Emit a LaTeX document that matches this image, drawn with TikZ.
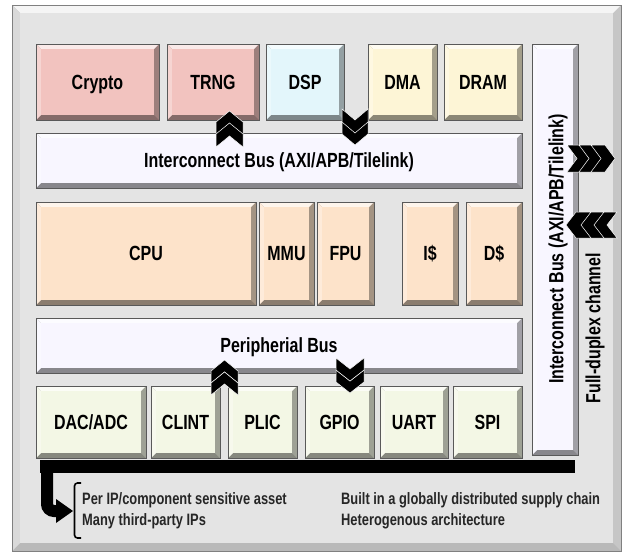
\documentclass[tikz,border=0pt]{standalone}
\usepackage{fontspec}
\setmainfont{Liberation Sans}[FakeStretch=0.78]
\definecolor{outerbg}{HTML}{E4E4E4}
\definecolor{cpink}{HTML}{F2C3BF}
\definecolor{ccyan}{HTML}{E3F6FB}
\definecolor{cyell}{HTML}{FDF5D6}
\definecolor{clav}{HTML}{F8F6FF}
\definecolor{cpeach}{HTML}{FDE3CA}
\definecolor{cgreen}{HTML}{F3F7E5}
\newcommand\bevbox[7]{%
  \fill[#6!55!black] (#2,#3) rectangle (#4,#5);
  \fill[#6!65!black] (#4,#3) -- (#4,#5) -- (#4-5,#5-5) -- (#4-5,#3+5) -- cycle;
  \fill[#6!35!white] (#2,#3) -- (#4,#3) -- (#4-5,#3+5) -- (#2+5,#3+5) -- cycle;
  \fill[#6!70!white] (#2,#3) -- (#2+5,#3+5) -- (#2+5,#5-5) -- (#2,#5) -- cycle;
  \fill[#6] (#2+5,#3+5) rectangle (#4-5,#5-5);
  \draw[gray!70!black,line width=0.6] (#2,#3) rectangle (#4,#5);
  \node[lbl] (#1) at ({(#2+#4)/2},{(#3+#5)/2}) {#7};}
\newcommand\chevU[4]{% cx, ytop, w, h ; depth 11
  \filldraw[fill=black,draw=white,line width=0.5] (#1-#3/2,#2+11) -- (#1,#2) -- (#1+#3/2,#2+11) -- (#1+#3/2,#2+#4) -- (#1,#2+#4-11) -- (#1-#3/2,#2+#4) -- cycle;}
\newcommand\chevD[4]{% cx, ybottom, w, h
  \filldraw[fill=black,draw=white,line width=0.5] (#1-#3/2,#2-11) -- (#1,#2) -- (#1+#3/2,#2-11) -- (#1+#3/2,#2-#4) -- (#1,#2-#4+11) -- (#1-#3/2,#2-#4) -- cycle;}
\newcommand\chevR[4]{% xleft, cy, w, h ; depth 10
  \filldraw[fill=black,draw=white,line width=0.5] (#1,#2-#4/2) -- (#1+#3-10,#2-#4/2) -- (#1+#3,#2) -- (#1+#3-10,#2+#4/2) -- (#1,#2+#4/2) -- (#1+10,#2) -- cycle;}
\newcommand\chevL[4]{% xright, cy, w, h
  \filldraw[fill=black,draw=white,line width=0.5] (#1,#2-#4/2) -- (#1-#3+10,#2-#4/2) -- (#1-#3,#2) -- (#1-#3+10,#2+#4/2) -- (#1,#2+#4/2) -- (#1-10,#2) -- cycle;}
\begin{document}
\begin{tikzpicture}[x=1pt,y=-1pt,
  lbl/.style={font=\fontsize{20.5}{22}\selectfont\bfseries,inner sep=0pt,text=black,text height=14.7pt,text depth=0pt},
  note/.style={font=\fontsize{16.5}{18}\selectfont\bfseries,inner sep=0pt,anchor=base west,text=black!85}]
\useasboundingbox (0,0) rectangle (624,554);
% outer frame
\fill[gray!55] (12,5) rectangle (621,551);
\fill[gray!45] (621,5) -- (621,551) -- (613,543) -- (613,13) -- cycle;
\fill[white!92!gray] (12,5) -- (621,5) -- (613,13) -- (20,13) -- cycle;
\fill[gray!30] (12,5) -- (20,13) -- (20,543) -- (12,551) -- cycle;
\fill[outerbg] (20,13) rectangle (613,543);
\draw[gray,line width=0.6] (12,5) rectangle (621,551);
% top row
\bevbox{crypto}{36}{44}{159}{120}{cpink}{Crypto}
\bevbox{trng}{167}{44}{259}{120}{cpink}{TRNG}
\bevbox{dsp}{266}{44}{344}{120}{ccyan}{DSP}
\bevbox{dma}{368}{44}{437}{120}{cyell}{DMA}
\bevbox{dram}{444}{44}{522}{120}{cyell}{DRAM}
\bevbox{ibus}{36}{133}{522}{188}{clav}{Interconnect Bus (AXI/APB/Tilelink)}
% vertical bus
\bevbox{vbus}{532}{44}{578}{455}{clav}{}
\node[lbl,rotate=90] (vbuslbl) at (556,249) {Interconnect Bus (AXI/APB/Tilelink)};
% middle row
\bevbox{cpu}{36}{202}{256}{305}{cpeach}{CPU}
\bevbox{mmu}{259}{202}{314}{305}{cpeach}{MMU}
\bevbox{fpu}{317}{202}{374}{305}{cpeach}{FPU}
\bevbox{icache}{402}{202}{458}{305}{cpeach}{I\$}
\bevbox{dcache}{466}{202}{522}{305}{cpeach}{D\$}
\bevbox{pbus}{36}{318}{522}{373}{clav}{Peripherial Bus}
% bottom row
\bevbox{dac}{36}{386}{146}{458}{cgreen}{DAC/ADC}
\bevbox{clint}{151}{386}{220}{458}{cgreen}{CLINT}
\bevbox{plic}{228}{386}{297}{458}{cgreen}{PLIC}
\bevbox{gpio}{305}{386}{374}{458}{cgreen}{GPIO}
\bevbox{uart}{380}{386}{448}{458}{cgreen}{UART}
\bevbox{spi}{453}{386}{522}{458}{cgreen}{SPI}
% chevrons
\chevU{229.5}{111}{27}{24}
\chevU{229.5}{123}{27}{24}
\chevD{355}{145}{26}{24}
\chevD{355}{133}{26}{24}
\chevU{224.5}{360}{27}{23}
\chevU{224.5}{372}{27}{23}
\chevD{350}{393}{28}{23}
\chevD{350}{381}{28}{23}
\chevR{567}{158.5}{24}{27}
\chevR{579}{158.5}{24}{27}
\chevR{591}{158.5}{24}{27}
\chevL{617}{225}{25}{26}
\chevL{604}{225}{25}{26}
\chevL{591}{225}{25}{26}
% full duplex label
\node[lbl,rotate=90] (fdx) at (593,328) {Full-duplex channel};
% black bar and arrow
\fill[black] (40,460) rectangle (575,473);
\coordinate (arrstart) at (47,466);
\coordinate (arrend) at (58,511);
\draw[line width=12,rounded corners=7] (arrstart) |- (arrend);
\fill[black] (56,499) -- (73,511) -- (56,523) -- cycle;
% bracket
\draw[line width=1.6,rounded corners=3] (81,483) -- (74.5,483) -- (74.5,538) -- (81,538);
% notes
\node[note] (n1) at (82,504) {Per IP/component sensitive asset};
\node[note] (n2) at (82,525) {Many third-party IPs};
\node[note] (n3) at (341,504) {Built in a globally distributed supply chain};
\node[note] (n4) at (341,525) {Heterogenous architecture};
\end{tikzpicture}
\end{document}
